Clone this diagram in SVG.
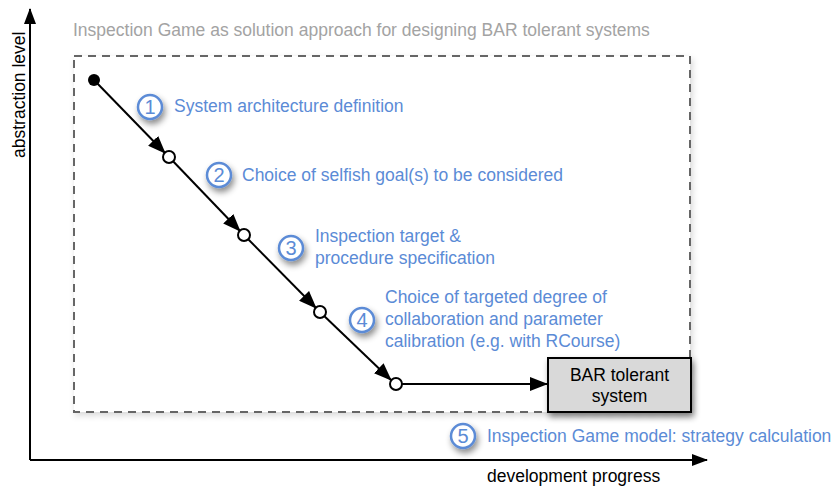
<svg xmlns="http://www.w3.org/2000/svg" width="835" height="486" viewBox="0 0 835 486">
<defs>
<style>
text{font-family:"Liberation Sans",Arial,sans-serif;}
.lbl{fill:#5b8bd6;font-size:17.5px;}
.num{fill:#5b8bd6;font-size:20px;text-anchor:middle;}
.nc{fill:#fff;stroke:#5b8bd6;stroke-width:2.5;}
.oc{fill:#fff;stroke:#000;stroke-width:2;}
.edge{stroke:#000;stroke-width:2;fill:none;}
</style>
<marker id="ah" markerWidth="18" markerHeight="14" refX="17" refY="7" orient="auto" markerUnits="userSpaceOnUse"><path d="M0,0 L18,7 L0,14 Z" fill="#000"/></marker>
<marker id="axh" markerWidth="16" markerHeight="12" refX="15" refY="6" orient="auto" markerUnits="userSpaceOnUse"><path d="M0,0 L16,6 L0,12 Z" fill="#000"/></marker>
<filter id="sh" x="-50%" y="-50%" width="200%" height="200%"><feDropShadow dx="2" dy="4" stdDeviation="3" flood-color="#000" flood-opacity="0.45"/></filter>
<filter id="sh2" x="-10%" y="-10%" width="120%" height="120%"><feDropShadow dx="2" dy="3" stdDeviation="3" flood-color="#000" flood-opacity="0.15"/></filter>
</defs>
<rect width="835" height="486" fill="#fff"/>
<g id="axes">
<line class="edge" x1="30" y1="460" x2="30" y2="9" marker-end="url(#axh)"/>
<line class="edge" x1="30" y1="460" x2="707" y2="460" marker-end="url(#axh)"/>
<text x="0" y="0" font-size="17.5" fill="#000" transform="translate(25,158) rotate(-90)">abstraction level</text>
<text x="487" y="482" font-size="17.5" fill="#000">development progress</text>
</g>
<g id="frame">
<text x="73" y="36" font-size="17.5" fill="#a3a3a3">Inspection Game as solution approach for designing BAR tolerant systems</text>
<rect x="74" y="56" width="616" height="356" fill="#fff" stroke="#666" stroke-width="2" stroke-dasharray="8,6" filter="url(#sh2)"/>
</g>
<g id="connectors">
<line class="edge" x1="94" y1="80" x2="165" y2="153" marker-end="url(#ah)"/>
<line class="edge" x1="169" y1="157" x2="240" y2="231" marker-end="url(#ah)"/>
<line class="edge" x1="244" y1="235" x2="316" y2="308" marker-end="url(#ah)"/>
<line class="edge" x1="320" y1="312" x2="391" y2="380" marker-end="url(#ah)"/>
<line class="edge" x1="402" y1="384" x2="547" y2="384" marker-end="url(#ah)"/>
</g>
<g id="start"><circle cx="94" cy="80" r="6" fill="#000"/></g>
<g id="p1"><circle class="oc" cx="169" cy="157" r="6"/></g>
<g id="p2"><circle class="oc" cx="244" cy="235" r="6"/></g>
<g id="p3"><circle class="oc" cx="320" cy="312" r="6"/></g>
<g id="p4"><circle class="oc" cx="396" cy="384" r="6"/></g>
<g id="bar">
<rect x="548" y="358" width="143" height="54" fill="#d9d9d9" stroke="#000" stroke-width="2" filter="url(#sh)"/>
<text x="619.5" y="381" font-size="17.5" text-anchor="middle">BAR tolerant</text>
<text x="619.5" y="402" font-size="17.5" text-anchor="middle">system</text>
</g>
<g id="step1">
<circle class="nc" cx="150" cy="107" r="12" filter="url(#sh)"/>
<text class="num" x="150" y="114">1</text>
<text class="lbl" x="174" y="112">System architecture definition</text>
</g>
<g id="step2">
<circle class="nc" cx="219" cy="175" r="12" filter="url(#sh)"/>
<text class="num" x="219" y="182">2</text>
<text class="lbl" x="242" y="181">Choice of selfish goal(s) to be considered</text>
</g>
<g id="step3">
<circle class="nc" cx="291" cy="248" r="12" filter="url(#sh)"/>
<text class="num" x="291" y="255">3</text>
<text class="lbl" x="315" y="242">Inspection target &amp;</text>
<text class="lbl" x="315" y="264">procedure specification</text>
</g>
<g id="step4">
<circle class="nc" cx="362" cy="320" r="12" filter="url(#sh)"/>
<text class="num" x="362" y="327">4</text>
<text class="lbl" x="385" y="303">Choice of targeted degree of</text>
<text class="lbl" x="385" y="325">collaboration and parameter</text>
<text class="lbl" x="385" y="347">calibration (e.g. with RCourse)</text>
</g>
<g id="step5">
<circle class="nc" cx="463" cy="436" r="12" filter="url(#sh)"/>
<text class="num" x="463" y="443">5</text>
<text class="lbl" x="487" y="442">Inspection Game model: strategy calculation</text>
</g>
</svg>
